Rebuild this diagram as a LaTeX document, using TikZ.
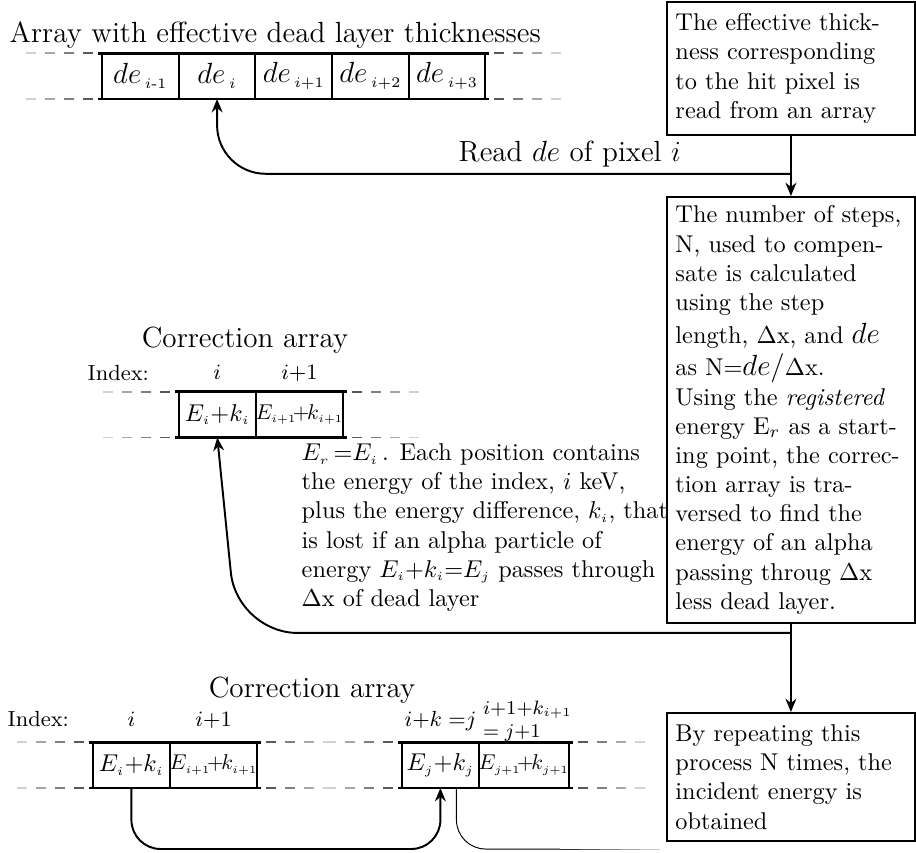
\documentclass[tikz,border=0pt]{standalone}
\usepackage{amsmath}
\usepackage{amssymb}
\usepackage{graphicx}
\usepackage{tikz}
\usetikzlibrary{arrows.meta,positioning,calc}
% top and bottom rails of an array, with dashes fading out on both sides
\newcommand{\cellrails}[2]{%
 \foreach \l/\r in {north west/north east,south west/south east}{
  \draw[rail] ([xshift=-1.6pt]#1.\l) -- ([xshift=1.6pt]#2.\r);
  \foreach \o/\c in {9/65,28/50,47/35,66/18}{
   \draw[black!\c, line width=0.8pt] ([xshift=-\o*0.4115pt]#1.\l) -- ++(-10,0);
   \draw[black!\c, line width=0.8pt] ([xshift=\o*0.4115pt]#2.\r) -- ++(10,0);
  }
 }
}
\newcommand{\sss}{\scriptscriptstyle}
\newcommand{\pairE}[1]{\scalebox{0.88}{$E_{\sss #1}\mkern-3mu{+}\mkern-2mu k_{\sss #1}$}}

\begin{document}
\begin{tikzpicture}[x=0.4115pt, y=-0.4115pt, >={Stealth[length=5.5pt,width=4.5pt,inset=1.8pt]}, semithick,
 cell/.style={draw, line width=0.8pt, minimum width=31.55pt, minimum height=18.9pt, inner sep=0pt, outer sep=0pt},
 rail/.style={line width=1.2pt},
 note/.style={draw, line width=0.8pt, text width=95pt, align=left, inner xsep=3.5pt, inner ysep=4.8pt, anchor=north west},
 biglbl/.style={font=\large, inner sep=0pt},
 idx/.style={font=\small, inner sep=0pt},
 flow/.style={->, line width=0.8pt}]
 \useasboundingbox (0,0) rectangle (916,852);

 % array of effective dead layer thicknesses
 \node[biglbl, anchor=base west] (dtitle) at (9,42) {Array with effective dead layer thicknesses};
 \node[cell, font=\large] (dc1) at (140.4,76) {$de_{\kern1.5pt\sss i\text{-}1}$};
 \node[cell, font=\large, right=0pt of dc1] (dc2) {$de_{\kern1.5pt\sss i}$};
 \node[cell, font=\large, right=0pt of dc2] (dc3) {$de_{\kern1.5pt\sss i+1}$};
 \node[cell, font=\large, right=0pt of dc3] (dc4) {$de_{\kern1.5pt\sss i+2}$};
 \node[cell, font=\large, right=0pt of dc4] (dc5) {$de_{\kern1.5pt\sss i+3}$};
 \cellrails{dc1}{dc5}

 % text boxes on the right
 \node[note] (b1) at (666,1) {The effective thick-\\ness corresponding\\to the hit pixel is\\read from an array};
 \node[note, inner ysep=3.6pt] (b2) at (666,196) {The number of steps,\\N, used to compen-\\sate is calculated\\using the step\\[1.5pt]
  length, $\Delta$x, and {\large$de$}\\[1.5pt]as N$=${\large$de/$}$\Delta$x.\\Using the \textit{registered}\\
  energy E$_r$ as a start-\\ing point, the correc-\\tion array is tra-\\versed to find the\\energy of an alpha\\
  passing throug $\Delta$x\\less dead layer.};
 \node[note] (b3) at (666,712) {By repeating this\\process N times, the\\incident energy is\\obtained};

 % first correction array
 \node[biglbl, anchor=base] (mtitle) at (245,347) {Correction array};
 \node[idx, anchor=base west] (mindex) at (87,380) {Index:};
 \node[cell] (mc1) at (217.3,414.5) {$E_{\sss i}{+}k_{\sss i}$};
 \node[cell, right=0pt of mc1] (mc2) {\pairE{i+1}};
 \node[idx, anchor=base] (mi1) at ($(mc1.north)+(0,-12)$) {$i$};
 \node[idx, anchor=base] (mi2) at ($(mc2.north)+(0,-12)$) {$i{+}1$};
 \cellrails{mc1}{mc2}
 \node[anchor=north west, align=left, inner sep=0pt] (mtext) at (301,443) {$E_{\sss r}\,{=}E_{\sss i}\,$. Each position contains\\
  the energy of the index, $i$ keV,\\plus the energy difference, $k_{\sss i}$, that\\is lost if an alpha particle of\\
  energy $E_{\sss i}{+}k_{\sss i}{=}E_{\sss j}$ passes through\\$\Delta$x of dead layer};

 % second correction array
 \node[biglbl, anchor=base] (btitle) at (312,697) {Correction array};
 \node[idx, anchor=base west] (bindex) at (7,726) {Index:};
 \node[cell] (bc1) at (131.4,765) {$E_{\sss i}{+}k_{\sss i}$};
 \node[cell, right=0pt of bc1] (bc2) {\pairE{i+1}};
 \node[cell] (bc3) at (440.4,765) {$E_{\sss j}{+}k_{\sss j}$};
 \node[cell, right=0pt of bc3] (bc4) {\pairE{j+1}};
 \node[idx, anchor=base] (bi1) at ($(bc1.north)+(0,-16)$) {$i$};
 \node[idx, anchor=base] (bi2) at ($(bc2.north)+(0,-16)$) {$i{+}1$};
 \node[idx, anchor=base] (bi3) at ($(bc3.north)+(0,-16)$) {$i{+}k\;{=}j$};
 \node[idx, font=\footnotesize, align=left, above=0pt of bc4, xshift=1.5pt] (bi4) {$i{+}1{+}k_{\sss i+1}$\\${=}\;j{+}1$};
 \cellrails{bc1}{bc2}
 \cellrails{bc3}{bc4}

 % connectors
 \coordinate (j1) at ([yshift=-15.6pt]b1.south);
 \coordinate (j2) at ([yshift=-3.7pt]b2.south);
 \draw[flow] (b1) -- (b2);
 \draw[flow, rounded corners=20pt] (j1) -| (dc2.south);
 \node[biglbl, anchor=base west] (rdlbl) at (458,161) {Read $de$ of pixel $i$};
 \draw[flow] (b2) -- (b3);
 \draw[flow, rounded corners=25pt] (j2) -- ++(-554,0) -- (mc1.south);
 \draw[flow, rounded corners=12pt] (bc1.south) -- ++(0,61) -| (bc3.south);
 \draw[thin, rounded corners=12pt] ([xshift=6.6pt]bc3.south) |- (560,849);
 \foreach \x/\c in {560/80,580/65,600/50,620/35,640/20}
  \draw[thin, black!\c] (\x,849) -- ++(20,0);
\end{tikzpicture}
\end{document}
